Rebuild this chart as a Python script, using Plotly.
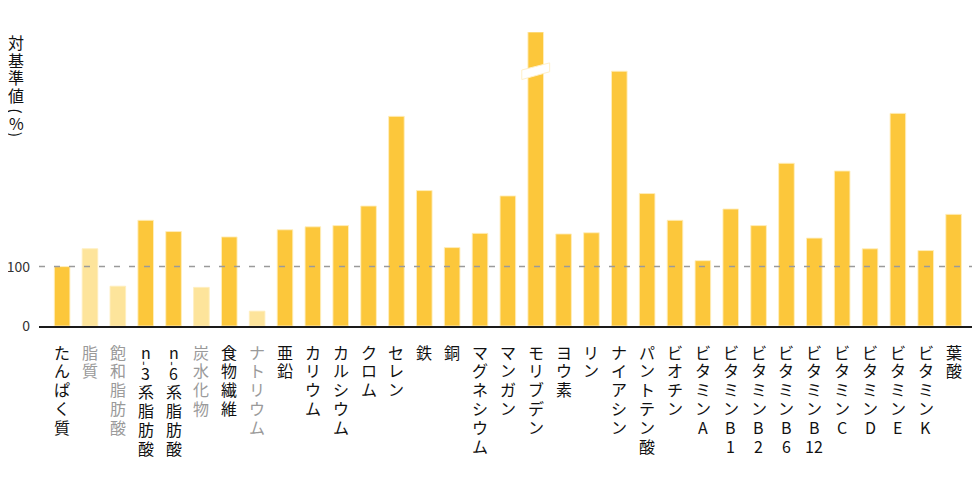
import plotly.graph_objects as go

categories = ["たんぱく質", "脂質", "飽和脂肪酸", "n-3系脂肪酸", "n-6系脂肪酸", "炭水化物",
              "食物繊維", "ナトリウム", "亜鉛", "カリウム", "カルシウム", "クロム", "セレン",
              "鉄", "銅", "マグネシウム", "マンガン", "モリブデン", "ヨウ素", "リン",
              "ナイアシン", "パントテン酸", "ビオチン", "ビタミンA", "ビタミンB1", "ビタミンB2",
              "ビタミンB6", "ビタミンB12", "ビタミンC", "ビタミンD", "ビタミンE", "ビタミンK", "葉酸"]
values = [100, 130, 67, 178, 159, 65, 150, 25, 162, 167, 169, 202, 353, 228, 132, 156, 219,
          495, 155, 157, 429, 223, 178, 110, 197, 169, 274, 148, 261, 130, 358, 127, 188]
muted = ["脂質", "飽和脂肪酸", "炭水化物", "ナトリウム"]
broken = "モリブデン"
y_ticks = [0, 100]
reference_line = 100
y_max = 495

FONT = "Noto Sans CJK JP"
C_MAIN = "#FCC73B"
C_MUTED = "#FDE49B"
T_MAIN = "#111111"
T_MUTED = "#9a9a9a"

bar_colors = [C_MUTED if c in muted else C_MAIN for c in categories]

fig = go.Figure()
fig.add_trace(go.Bar(
    x=categories, y=values, width=0.56,
    marker=dict(color=bar_colors, line=dict(color="rgba(255,238,190,0.9)", width=1)),
    hoverinfo="x+y",
))

# reference dashed line
fig.add_shape(type="line", xref="paper", x0=0, x1=1, yref="y", y0=reference_line, y1=reference_line,
              line=dict(color="#9a9a9a", width=1.5, dash="6px,9px"), layer="above")

# axis break on the clipped bar
bi = categories.index(broken)
fig.add_shape(type="path", xref="x", yref="y", layer="above",
              path=f"M {bi-0.5},415 L {bi+0.5},428 L {bi+0.5},443 L {bi-0.5},431 Z",
              fillcolor="white", line=dict(color="rgba(255,240,200,1)", width=1))

# tokenise vertical labels
def tokens(label):
    out = []
    i = 0
    while i < len(label):
        ch = label[i]
        if ch.isdigit():
            j = i
            while j < len(label) and label[j].isdigit():
                j += 1
            out.append(label[i:j])
            i = j
        else:
            out.append(ch)
            i += 1
    return out

STEP = 18.8
FIRST = -25.5
for c in categories:
    color = T_MUTED if c in muted else T_MAIN
    pos = 0.0
    for t in tokens(c):
        if t == "-":
            fig.add_annotation(x=c, xref="x", y=0, yref="paper", text="-", showarrow=False,
                               textangle=90, yshift=FIRST - (pos - 0.35) * STEP,
                               font=dict(family=FONT, size=13, color=color),
                               xanchor="center", yanchor="middle")
            pos += 0.12
            continue
        fig.add_annotation(x=c, xref="x", y=0, yref="paper", text=t, showarrow=False,
                           yshift=FIRST - pos * STEP,
                           font=dict(family=FONT, size=16, color=color),
                           xanchor="center", yanchor="middle")
        pos += 1.0

# vertical y-axis title
title_chars = [("対", 0, 0), ("基", 18.3, 0), ("準", 35, 0), ("値", 53.3, 0),
               ("(", 68.5, 90), ("%", 81.5, 0), (")", 92, 90)]
for ch, off, ang in title_chars:
    fig.add_annotation(x=0, xref="paper", xshift=-23, y=1, yref="paper", yshift=-9.7 - off,
                       text=ch, showarrow=False, xanchor="center", yanchor="middle", textangle=ang,
                       font=dict(family=FONT, size=16, color="#111111"))

# page body has an 8px offset; margins compensate so the plot lands where the reference has it
fig.update_layout(
    width=980, height=490,
    margin=dict(l=31, r=11, t=24, b=171.5, autoexpand=False),
    paper_bgcolor="white", plot_bgcolor="white",
    showlegend=False,
    font=dict(family=FONT),
)
fig.update_xaxes(type="category", range=[-0.83, 32.84], showticklabels=False, ticks="",
                 automargin=False,
                 showgrid=False, zeroline=False, showline=True, linecolor="#1a1a1a", linewidth=2)
fig.update_yaxes(range=[0, y_max], tickvals=y_ticks, ticktext=[str(v) for v in y_ticks],
                 automargin=False,
                 showgrid=False, zeroline=False, showline=False, ticks="",
                 ticklabelstandoff=8, tickfont=dict(family=FONT, size=14, color="#333333"))

fig.write_html("out.html")
